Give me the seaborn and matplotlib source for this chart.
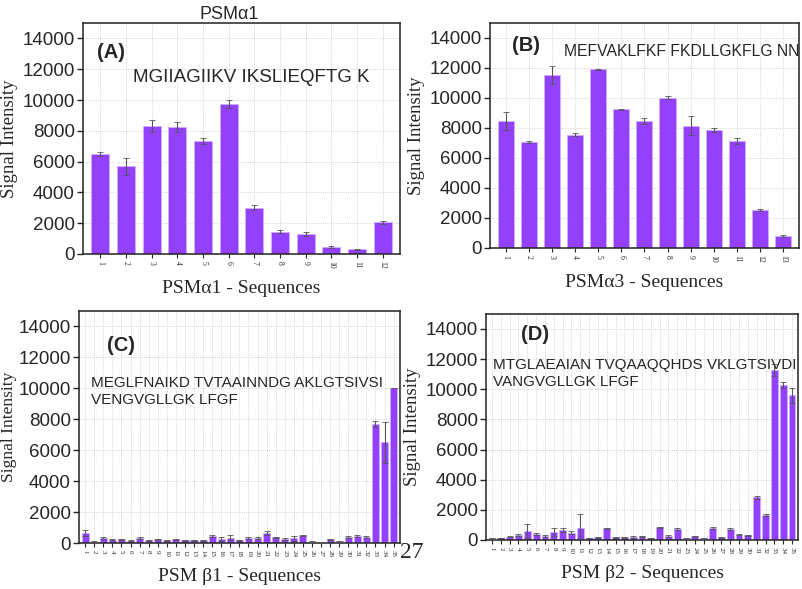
import numpy as np
import pandas as pd
import seaborn as sns
import matplotlib.pyplot as plt

# panel A - PSMa1
a_vals = [6500, 5700, 8300, 8250, 7350, 9750, 3000, 1450, 1300, 450, 300, 2050]
a_err = [150, 550, 400, 300, 200, 250, 150, 100, 100, 50, 50, 80]

# panel B - PSMa3
b_vals = [8450, 7050, 11500, 7550, 11900, 9250, 8450, 10000, 8150, 7850, 7100, 2550, 820]
b_err = [600, 50, 600, 100, 50, 20, 200, 100, 650, 150, 200, 80, 60]

# panel C - PSM beta1
c_vals = [650, 100, 300, 220, 240, 150, 300, 170, 240, 170, 240, 170, 170, 190, 450,
          260, 340, 170, 300, 320, 650, 365, 260, 300, 495, 90, 40, 240, 110, 390,
          450, 365, 7700, 6500, 10050]
c_err = [200, 30, 60, 40, 40, 30, 60, 30, 40, 30, 40, 30, 30, 30, 50,
         100, 150, 30, 60, 60, 150, 50, 40, 150, 50, 20, 10, 40, 30, 60,
         80, 60, 200, 1300, 0]

# panel D - PSM beta2
d_vals = [110, 130, 220, 330, 580, 380, 270, 530, 670, 470, 820, 130, 180, 780, 180,
          180, 200, 240, 130, 840, 260, 710, 110, 240, 110, 800, 180, 730, 350, 310,
          2850, 1650, 11250, 10300, 9600]
d_err = [30, 30, 40, 40, 480, 80, 80, 250, 150, 100, 900, 20, 30, 40, 30,
         30, 60, 40, 20, 40, 40, 60, 20, 40, 20, 40, 30, 40, 50, 30,
         100, 50, 400, 200, 500]

panels = [
    ("(A)", a_vals, a_err, "PSM\u03b11 - Sequences", "MGIIAGIIKV IKSLIEQFTG K"),
    ("(B)", b_vals, b_err, "PSM\u03b13 - Sequences", "MEFVAKLFKF FKDLLGKFLG NN"),
    ("(C)", c_vals, c_err, "PSM \u03b21 - Sequences",
     "MEGLFNAIKD TVTAAINNDG AKLGTSIVSI\nVENGVGLLGK LFGF"),
    ("(D)", d_vals, d_err, "PSM \u03b22 - Sequences",
     "MTGLAEAIAN TVQAAQQHDS VKLGTSIVDI\nVANGVGLLGK LFGF"),
]

sns.set_style("ticks")
plt.rcParams['font.family'] = ['Liberation Sans', 'DejaVu Sans']

fig = plt.figure(figsize=(8.02, 5.89), dpi=100)
rects = [
    [0.1035, 0.5688, 0.3953, 0.392],
    [0.611, 0.579, 0.385, 0.382],
    [0.0985, 0.078, 0.400, 0.394],
    [0.606, 0.0832, 0.389, 0.384],
]
# label positions in axes fraction: (tag x, tag y, seq x, seq y, seq size)
pos = [
    (0.044, 0.874, 0.158, 0.766, 13.5),
    (0.07, 0.902, 0.24, 0.871, 11.3),
    (0.087, 0.853, 0.036, 0.72, 11),
    (0.111, 0.907, 0.022, 0.805, 11),
]

purple = "#9340FF"

for i, (tag, vals, err, xlab, seq) in enumerate(panels):
    ax = fig.add_axes(rects[i])
    labels = [str(k + 1) for k in range(len(vals))]
    df = pd.DataFrame({"seq": labels, "signal": vals})
    wid = 0.7 if len(vals) < 20 else 0.78
    sns.barplot(data=df, x="seq", y="signal", order=labels, color=purple,
                saturation=1, width=wid, edgecolor="#CFAEFF", linewidth=0.6,
                errorbar=None, ax=ax, zorder=2)
    ax.errorbar(np.arange(len(vals)), vals, yerr=err, fmt="none",
                ecolor="#555555", elinewidth=0.8, capsize=2, capthick=0.6, zorder=3)
    ax.set_ylim(0, 15000)
    ax.set_xlim(-0.68, len(vals) - 0.32)
    ax.set_yticks(range(0, 14001, 2000))
    ax.grid(True, linestyle=(0, (1, 1.5)), color="#c8c8c8", linewidth=0.6, zorder=0)
    ax.set_axisbelow(True)
    for s in ax.spines.values():
        s.set_visible(True)
        s.set_color("#222222")
        s.set_linewidth(1.1)
    ax.tick_params(axis="y", labelsize=13.5, length=4, width=1, direction="out", pad=2)
    ax.tick_params(axis="x", labelsize=5.5 if len(vals) < 20 else 5,
                   length=3, width=0.8, direction="out", pad=2)
    for lbl in ax.get_xticklabels():
        lbl.set_rotation(270)
        lbl.set_family("Liberation Serif")
    ax.set_xlabel(xlab, family="Liberation Serif", fontsize=14, labelpad=8)
    ax.set_ylabel("Signal Intensity", family="Liberation Serif",
                  fontsize=12.5 if i == 2 else 13.5, labelpad=1 if i == 2 else 3)
    tx, ty, sx, sy, fs = pos[i]
    ax.text(tx, ty, tag, transform=ax.transAxes, fontsize=14.5, fontweight="bold",
            va="center", ha="left")
    ax.text(sx, sy, seq, transform=ax.transAxes, fontsize=fs,
            va="top" if "\n" in seq else "center", ha="left", linespacing=1.25)
    if i == 0:
        ax.set_title("PSM\u03b11", fontsize=13, pad=3, x=0.46)

fig.text(412 / 802, 1 - 553 / 589, "27", family="Liberation Serif", fontsize=17,
         ha="center", va="center")

fig.savefig("out.png", dpi=100)
